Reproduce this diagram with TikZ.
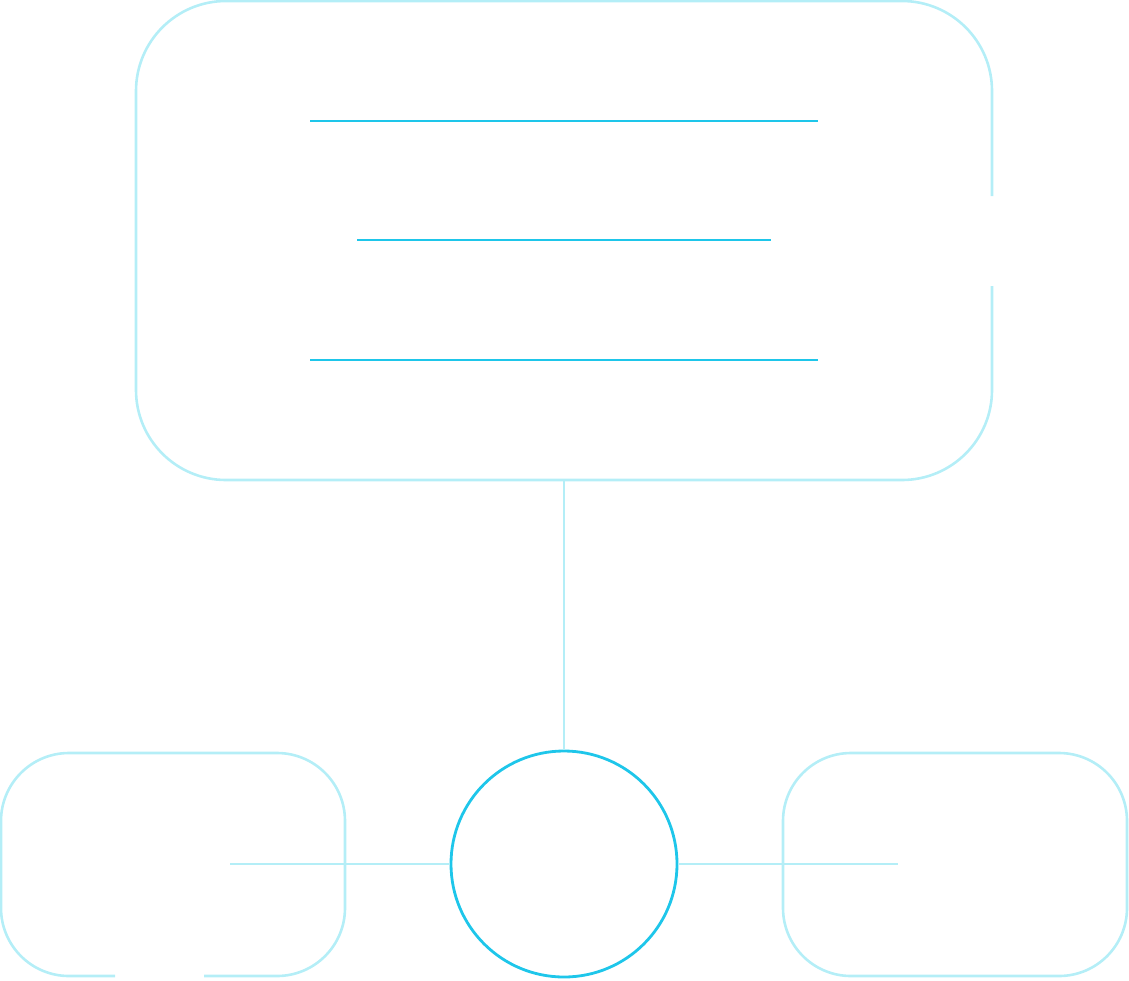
\documentclass[tikz,border=0pt]{standalone}
\begin{document}
\begin{tikzpicture}[x=1pt,y=-1pt,
  lite/.style={draw=litecol,line width=2.6pt},
  dark/.style={draw=darkcol,line width=2.8pt}]
\definecolor{litecol}{HTML}{B4EEF7}
\definecolor{darkcol}{HTML}{1EC6EA}
\useasboundingbox (0,0) rectangle (1129,980);
% top box with gap on right side
\draw[lite,rounded corners=90pt] (992,286) -- (992,480) -- (136,480) -- (136,1) -- (992,1) -- (992,196);
% text lines
\draw[dark,line width=2.6pt] (310,121) -- (818,121);
\draw[dark,line width=2.6pt] (357,240) -- (771,240);
\draw[dark,line width=2.6pt] (310,360) -- (818,360);
% circle
\node[circle,dark,minimum size=226pt,inner sep=0pt] (c) at (564,864) {};
\coordinate (topb) at (564,480);
\draw[lite] (topb) -- (c.north);
% left box with gap at bottom
\draw[lite,rounded corners=68pt] (204,976) -- (345,976) -- (345,753) -- (1,753) -- (1,976) -- (115,976);
% right box
\draw[lite,rounded corners=68pt] (783,753) rectangle (1127,976);
\coordinate (lend) at (230,864);
\coordinate (rend) at (898,864);
\draw[lite] (lend) -- (c.west);
\draw[lite] (c.east) -- (rend);
\end{tikzpicture}
\end{document}
